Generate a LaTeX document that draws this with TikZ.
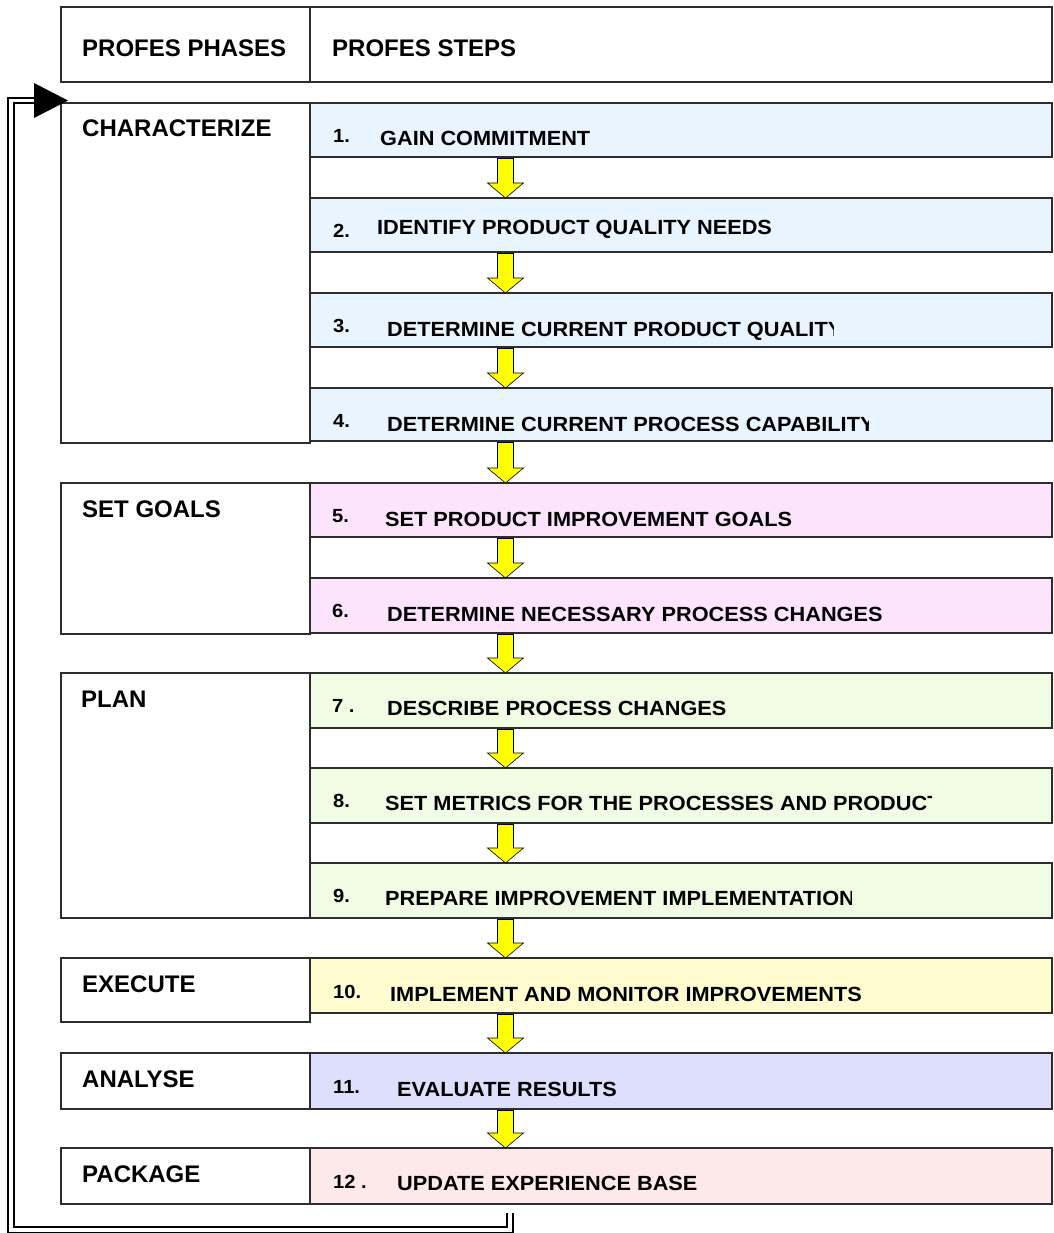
\documentclass[tikz,border=0pt]{standalone}
\usepackage{fontspec}
\setmainfont{Liberation Sans}
\newfontfamily\phasefont{Liberation Sans Bold}
\newfontfamily\stepfont{Liberation Sans Bold}[FakeStretch=1.06]
\usetikzlibrary{calc}
\definecolor{blueF}{RGB}{232,244,254}
\definecolor{pinkF}{RGB}{253,228,253}
\definecolor{greenF}{RGB}{240,253,228}
\definecolor{yellowF}{RGB}{255,253,208}
\definecolor{lavF}{RGB}{221,223,253}
\definecolor{roseF}{RGB}{253,233,233}
\definecolor{lineC}{RGB}{45,45,45}
\definecolor{arrY}{RGB}{255,255,0}
\begin{document}
\begin{tikzpicture}[x=1pt,y=-1pt,
  box/.style={draw=lineC, line width=1.3pt, inner sep=0pt, outer sep=0pt, anchor=north west},
  phasebox/.style={box, minimum width=249pt},
  stepbox/.style={box, minimum width=742pt},
  phasetxt/.style={font=\phasefont\fontsize{24}{28}\selectfont, anchor=base west, inner sep=0pt},
  numtxt/.style={font=\stepfont\fontsize{19}{21}\selectfont, anchor=base west, inner sep=0pt},
  steptxt/.style={font=\stepfont\fontsize{20.5}{23}\selectfont, anchor=base west, inner sep=0pt},
  yarr/.style={fill=arrY, draw=black, line width=0.6pt, line join=miter},
  loopline/.style={draw=black, double=white, double distance=3.6pt, line width=1.8pt}
]
\useasboundingbox (0,0) rectangle (1053,1233);

% header
\node[box, minimum width=249pt, minimum height=75pt] (headL) at (61,7) {};
\node[box, minimum width=742pt, minimum height=75pt] (headR) at (310,7) {};
\node[phasetxt] (hPh) at (82,57) {PROFES PHASES};
\node[phasetxt] (hSt) at (332,57) {PROFES STEPS};

% phase boxes
\node[phasebox, minimum height=340pt] (ph1) at (61,103) {};
\node[phasebox, minimum height=151pt] (ph2) at (61,483) {};
\node[phasebox, minimum height=245pt] (ph3) at (61,673) {};
\node[phasebox, minimum height=64pt] (ph4) at (61,958) {};
\node[phasebox, minimum height=56pt] (ph5) at (61,1053) {};
\node[phasebox, minimum height=56pt] (ph6) at (61,1148) {};
\node[phasetxt] (pt1) at (82,137) {CHARACTERIZE};
\node[phasetxt] (pt2) at (82,517) {SET GOALS};
\node[phasetxt] (pt3) at (81,707) {PLAN};
\node[phasetxt] (pt4) at (82,992) {EXECUTE};
\node[phasetxt] (pt5) at (82,1087) {ANALYSE};
\node[phasetxt] (pt6) at (82,1182) {PACKAGE};

% step boxes
\node[stepbox, fill=blueF, minimum height=54pt] (s1) at (310,103) {};
\node[stepbox, fill=blueF, minimum height=54pt] (s2) at (310,198) {};
\node[stepbox, fill=blueF, minimum height=54pt] (s3) at (310,293) {};
\node[stepbox, fill=blueF, minimum height=53pt] (s4) at (310,388) {};
\node[stepbox, fill=pinkF, minimum height=54pt] (s5) at (310,483) {};
\node[stepbox, fill=pinkF, minimum height=55pt] (s6) at (310,578) {};
\node[stepbox, fill=greenF, minimum height=55pt] (s7) at (310,673) {};
\node[stepbox, fill=greenF, minimum height=55pt] (s8) at (310,768) {};
\node[stepbox, fill=greenF, minimum height=55pt] (s9) at (310,863) {};
\node[stepbox, fill=yellowF, minimum height=55pt] (s10) at (310,958) {};
\node[stepbox, fill=lavF, minimum height=56pt] (s11) at (310,1053) {};
\node[stepbox, fill=roseF, minimum height=56pt] (s12) at (310,1148) {};

% step numbers
\node[numtxt] (n1) at (333,143) {1.};
\node[numtxt] (n2) at (333,237) {2.};
\node[numtxt] (n3) at (333,332) {3.};
\node[numtxt] (n4) at (333,427) {4.};
\node[numtxt] (n5) at (332,522) {5.};
\node[numtxt] (n6) at (332,617) {6.};
\node[numtxt] (n7) at (332,712) {7 .};
\node[numtxt] (n8) at (333,807) {8.};
\node[numtxt] (n9) at (333,902) {9.};
\node[numtxt] (n10) at (333,998) {10.};
\node[numtxt] (n11) at (333,1093) {11.};
\node[numtxt] (n12) at (333,1188) {12 .};

% step texts
\node[steptxt] (t1) at (380,146) {GAIN COMMITMENT};
\node[steptxt] (t2) at (377,235) {IDENTIFY PRODUCT QUALITY NEEDS};
\begin{scope}
  \clip (310,293) rectangle (833,347);
  \node[steptxt] (t3) at (387,336) {DETERMINE CURRENT PRODUCT QUALITY};
\end{scope}
\begin{scope}
  \clip (310,388) rectangle (868,441);
  \node[steptxt] (t4) at (387,431) {DETERMINE CURRENT PROCESS CAPABILITY};
\end{scope}
\node[steptxt] (t5) at (385,526) {SET PRODUCT IMPROVEMENT GOALS};
\node[steptxt] (t6) at (387,621) {DETERMINE NECESSARY PROCESS CHANGES};
\node[steptxt] (t7) at (387,715) {DESCRIBE PROCESS CHANGES};
\begin{scope}
  \clip (310,768) rectangle (931,823);
  \node[steptxt] (t8) at (385,810) {SET METRICS FOR THE PROCESSES AND PRODUCT};
\end{scope}
\begin{scope}
  \clip (310,863) rectangle (851,918);
  \node[steptxt] (t9) at (385,905) {PREPARE IMPROVEMENT IMPLEMENTATION};
\end{scope}
\node[steptxt] (t10) at (390,1001) {IMPLEMENT AND MONITOR IMPROVEMENTS};
\node[steptxt] (t11) at (397,1096) {EVALUATE RESULTS};
\node[steptxt] (t12) at (397,1190) {UPDATE EXPERIENCE BASE};

% yellow block arrows between steps
\newcommand\blockarrow[2]{%
  \draw[yarr] let \p1=(#1.south), \p2=(#2.north) in
    ({497.5pt},{\y1-1.5pt}) -- ({513.5pt},{\y1-1.5pt}) -- ({513.5pt},{\y2+15pt})
    -- ({523.5pt},{\y2+15pt}) -- ({505.5pt},{\y2}) -- ({487.5pt},{\y2+15pt})
    -- ({497.5pt},{\y2+15pt}) -- cycle;}
\blockarrow{s1}{s2}
\blockarrow{s2}{s3}
\blockarrow{s3}{s4}
\blockarrow{s4}{s5}
\blockarrow{s5}{s6}
\blockarrow{s6}{s7}
\blockarrow{s7}{s8}
\blockarrow{s8}{s9}
\blockarrow{s9}{s10}
\blockarrow{s10}{s11}
\blockarrow{s11}{s12}

% feedback loop
\coordinate (loopstart) at (510,1213);
\coordinate (looptip) at (68,100.5);
\draw[loopline] (loopstart) -- (510,1230) -- (11,1230) -- (11,100.5) -- ($(looptip)+(-32,0)$);
\fill[black] (looptip) -- ++(-34,-17.5) -- ++(0,35) -- cycle;
\end{tikzpicture}
\end{document}
